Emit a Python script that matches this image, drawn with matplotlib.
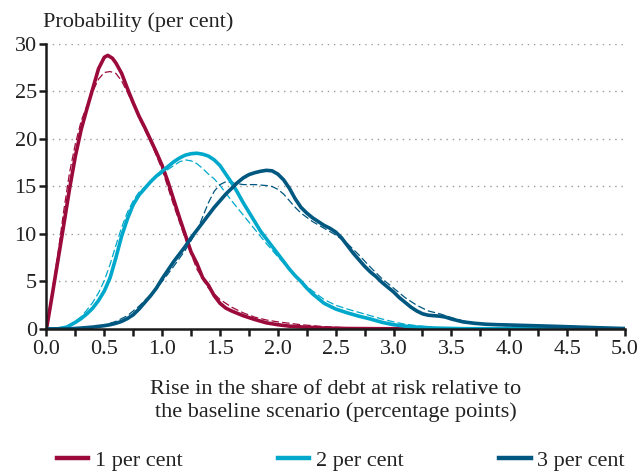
import matplotlib
matplotlib.use("Agg")
import matplotlib.pyplot as plt

# 1 per cent
x1 = [0.0, 0.05, 0.1, 0.15, 0.2, 0.25, 0.3, 0.35, 0.4, 0.45, 0.5, 0.53, 0.57, 0.6, 0.65, 0.7,
      0.75, 0.8, 0.85, 0.9, 0.95, 1.0, 1.05, 1.1, 1.15, 1.2, 1.25, 1.3, 1.35, 1.4, 1.45, 1.5,
      1.55, 1.6, 1.7, 1.8, 1.9, 2.0, 2.1, 2.2, 2.4, 2.6, 3.0, 5.0]
y1 = [0.0, 3.6, 7.3, 11.0, 14.8, 18.2, 21.0, 23.2, 25.3, 27.4, 28.6, 28.8, 28.5, 28.0, 26.9, 25.3,
      23.8, 22.4, 21.2, 19.9, 18.6, 17.2, 15.5, 13.6, 11.7, 9.9, 8.1, 6.9, 5.4, 4.6, 3.5, 2.7,
      2.2, 1.9, 1.4, 1.0, 0.65, 0.45, 0.3, 0.22, 0.1, 0.05, 0.02, 0.0]
x1d = [0.0, 0.05, 0.1, 0.15, 0.2, 0.25, 0.3, 0.35, 0.4, 0.45, 0.5, 0.55, 0.6, 0.65, 0.7, 0.75,
       0.8, 0.9, 1.0, 1.1, 1.2, 1.3, 1.4, 1.5, 1.6, 1.7, 1.8, 1.9, 2.0, 2.2, 2.4, 2.6, 2.8, 3.0, 5.0]
y1d = [0.0, 4.0, 8.0, 12.5, 16.5, 19.5, 21.9, 23.5, 25.0, 26.3, 27.0, 27.1, 26.9, 26.1, 24.9, 23.6,
       22.2, 19.7, 16.8, 13.0, 9.5, 6.3, 4.3, 3.1, 2.3, 1.7, 1.25, 0.95, 0.75, 0.45, 0.25, 0.12, 0.06, 0.02, 0.0]

# 2 per cent
x2 = [0.0, 0.1, 0.175, 0.25, 0.3, 0.35, 0.4, 0.45, 0.5, 0.55, 0.6, 0.65, 0.7, 0.75, 0.8, 0.85,
      0.9, 0.95, 1.0, 1.05, 1.1, 1.15, 1.2, 1.25, 1.3, 1.35, 1.4, 1.45, 1.5, 1.55, 1.6, 1.65,
      1.7, 1.75, 1.8, 1.85, 1.9, 1.95, 2.0, 2.05, 2.1, 2.15, 2.2, 2.25, 2.3, 2.35, 2.4, 2.45,
      2.5, 2.6, 2.7, 2.8, 2.9, 3.0, 3.1, 3.2, 3.35, 3.6, 5.0]
y2 = [0.0, 0.02, 0.2, 0.7, 1.1, 1.6, 2.2, 3.0, 4.0, 5.4, 7.5, 9.8, 11.6, 13.1, 14.1, 14.8,
      15.5, 16.1, 16.6, 17.1, 17.6, 18.0, 18.3, 18.45, 18.5, 18.4, 18.2, 17.8, 17.2, 16.3, 15.4, 14.4,
      13.3, 12.3, 11.3, 10.3, 9.5, 8.7, 7.9, 7.1, 6.3, 5.6, 5.0, 4.3, 3.7, 3.2, 2.7, 2.4,
      2.1, 1.7, 1.35, 1.05, 0.7, 0.45, 0.3, 0.2, 0.1, 0.03, 0.0]
x2d = [0.0, 0.15, 0.2, 0.25, 0.3, 0.35, 0.4, 0.45, 0.5, 0.55, 0.6, 0.65, 0.7, 0.75, 0.8, 0.9,
       1.0, 1.1, 1.15, 1.2, 1.25, 1.3, 1.35, 1.4, 1.45, 1.5, 1.6, 1.7, 1.8, 1.9, 2.0, 2.1, 2.2,
       2.3, 2.4, 2.5, 2.6, 2.7, 2.8, 2.9, 3.0, 3.1, 3.2, 3.35, 3.5, 5.0]
y2d = [0.0, 0.1, 0.35, 0.8, 1.3, 2.0, 2.8, 3.8, 5.1, 6.8, 8.8, 10.7, 12.3, 13.5, 14.4, 15.5,
       16.4, 17.2, 17.6, 17.8, 17.7, 17.4, 16.9, 16.3, 15.8, 15.1, 13.5, 12.0, 10.5, 9.0, 7.6, 6.3, 5.0,
       4.0, 3.1, 2.5, 2.1, 1.75, 1.4, 1.05, 0.75, 0.5, 0.35, 0.15, 0.05, 0.0]

# 3 per cent
x3 = [0.0, 0.2, 0.3, 0.4, 0.5, 0.55, 0.6, 0.65, 0.7, 0.75, 0.8, 0.85, 0.9, 0.95, 1.0, 1.05,
      1.1, 1.15, 1.2, 1.25, 1.3, 1.35, 1.4, 1.45, 1.5, 1.55, 1.6, 1.65, 1.7, 1.75, 1.8, 1.85,
      1.9, 1.95, 2.0, 2.05, 2.1, 2.15, 2.2, 2.25, 2.3, 2.35, 2.4, 2.45, 2.5, 2.55, 2.6, 2.65,
      2.7, 2.75, 2.8, 2.85, 2.9, 2.95, 3.0, 3.05, 3.1, 3.15, 3.2, 3.25, 3.3, 3.35, 3.4, 3.45,
      3.5, 3.55, 3.6, 3.7, 3.8, 3.9, 4.0, 4.2, 4.4, 4.6, 4.8, 5.0]
y3 = [0.0, 0.02, 0.1, 0.2, 0.35, 0.45, 0.6, 0.8, 1.1, 1.5, 2.1, 2.8, 3.5, 4.3, 5.3, 6.2,
      7.1, 7.9, 8.7, 9.6, 10.4, 11.2, 12.0, 12.8, 13.5, 14.2, 14.8, 15.4, 15.9, 16.25, 16.45, 16.6,
      16.7, 16.65, 16.3, 15.7, 14.8, 13.7, 12.8, 12.2, 11.7, 11.3, 10.9, 10.6, 10.2, 9.6, 8.8, 8.0,
      7.3, 6.6, 6.0, 5.5, 4.9, 4.4, 3.9, 3.3, 2.8, 2.3, 1.9, 1.6, 1.45, 1.4, 1.35, 1.25,
      1.05, 0.9, 0.75, 0.6, 0.5, 0.45, 0.42, 0.35, 0.28, 0.2, 0.12, 0.05]
x3d = [0.0, 0.3, 0.4, 0.5, 0.6, 0.7, 0.8, 0.9, 1.0, 1.1, 1.2, 1.3, 1.35, 1.4, 1.45, 1.5,
       1.55, 1.6, 1.7, 1.8, 1.9, 1.95, 2.0, 2.05, 2.1, 2.15, 2.2, 2.3, 2.4, 2.5, 2.6, 2.7,
       2.8, 2.9, 3.0, 3.1, 3.2, 3.3, 3.4, 3.5, 3.6, 3.7, 3.8, 4.0, 4.5, 5.0]
y3d = [0.0, 0.1, 0.2, 0.4, 0.8, 1.4, 2.4, 3.6, 5.0, 6.6, 8.3, 10.3, 11.8, 13.3, 14.5, 15.2,
       15.5, 15.4, 15.2, 15.2, 15.1, 15.0, 14.7, 14.2, 13.5, 12.8, 12.2, 11.3, 10.6, 9.9, 9.0, 7.8,
       6.5, 5.3, 4.3, 3.3, 2.5, 1.9, 1.6, 1.2, 0.85, 0.6, 0.45, 0.35, 0.2, 0.05]

labels = ["1 per cent", "2 per cent", "3 per cent"]
colors = ["#9b0a3a", "#00a9cb", "#00577f"]

plt.rcParams["font.family"] = ["Liberation Serif", "DejaVu Serif"]
plt.rcParams["font.size"] = 16
txt = "#222222"

fig = plt.figure(figsize=(6.41, 4.71), dpi=100)
ax = fig.add_axes([0.0725, 0.3015, 0.9025, 0.6051])

series = [(x1, y1, x1d, y1d), (x2, y2, x2d, y2d), (x3, y3, x3d, y3d)]
for (xs, ys, xd, yd), c in zip(series, colors):
    ax.plot(xd, yd, color=c, lw=0.9, dashes=(6, 2.5), zorder=3)
    ax.plot(xs, ys, color=c, lw=2.6, solid_joinstyle="round", zorder=4)

ax.set_xlim(0, 5)
ax.set_ylim(0, 30)
ax.set_xticks([i * 0.25 for i in range(21)])
ax.set_xticklabels([f"{i * 0.25:.1f}" if i % 2 == 0 else "" for i in range(21)])
ax.set_yticks(range(0, 31, 5))
ax.yaxis.grid(True, linestyle=(0, (1, 3.5)), color="#9a9a9a", lw=1.0)
ax.set_axisbelow(True)
for s in ["top", "right"]:
    ax.spines[s].set_visible(False)
for s in ["left", "bottom"]:
    ax.spines[s].set_linewidth(1.8)
    ax.spines[s].set_color("#1a1a1a")
    ax.spines[s].set_zorder(5)
ax.tick_params(axis="both", direction="out", length=5, width=1.8, color="#1a1a1a",
               labelcolor=txt, labelsize=16)
ax.tick_params(axis="x", pad=3)
ax.tick_params(axis="y", pad=2)

fig.text(43 / 641, 1 - 22 / 471, "Probability (per cent)", ha="left", va="center",
         color=txt, fontsize=16)
ax.set_xlabel("Rise in the share of debt at risk relative to\nthe baseline scenario (percentage points)",
              color=txt, fontsize=16, labelpad=15, linespacing=1.2)

handles = [plt.Line2D([], [], color=c, lw=3.2) for c in colors]
fig.legend(handles, labels, loc="center", bbox_to_anchor=(0.532, 0.022), ncol=3,
           frameon=False, handlelength=1.4, handletextpad=0.3, columnspacing=4.3,
           fontsize=16, labelcolor=txt)

fig.savefig("out.png", dpi=100)
